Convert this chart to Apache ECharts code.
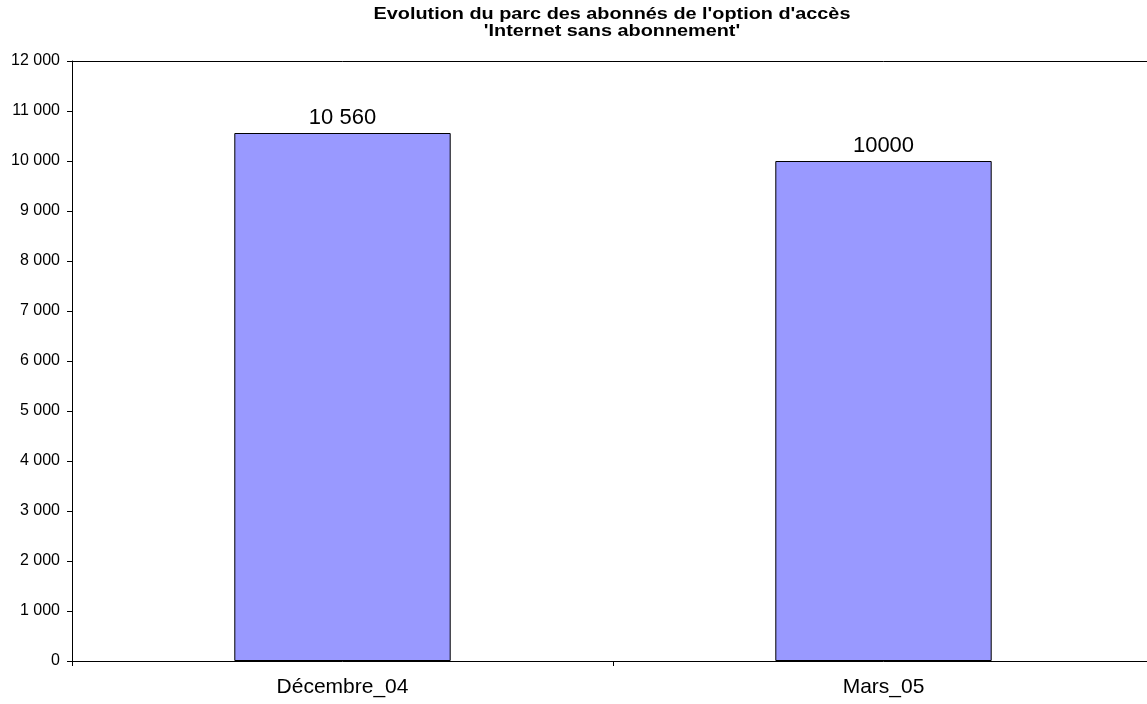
<!DOCTYPE html>
<html><head><meta charset="utf-8">
<script src="https://cdn.jsdelivr.net/npm/echarts@6/dist/echarts.min.js"></script>
<style>html,body{margin:0;padding:0;background:#fff;overflow:hidden}#c{width:1154px;height:704px}</style>
</head><body><div id="c"></div>
<script>
const categories = ['Décembre_04', 'Mars_05'];
const values = [10560, 10000];
const valueLabels = ['10 560', '10000'];
const yTicks = [0, 1000, 2000, 3000, 4000, 5000, 6000, 7000, 8000, 9000, 10000, 11000, 12000];
const titleText = "Evolution du parc des abonnés de l'option d'accès\n'Internet sans abonnement'";

const fmt = v => String(v).replace(/\B(?=(\d{3})+(?!\d))/g, ' ');
const chart = echarts.init(document.getElementById('c'));
chart.setOption({
  animation: false,
  graphic: [{
    type: 'text', x: 612, y: 6, scaleX: 1.24, originX: 0,
    style: {text: titleText, align: 'center', verticalAlign: 'top', fill: '#000',
      font: 'bold 16px "Liberation Sans"', lineHeight: 17}
  }],
  grid: {left: 72, right: 0, top: 61, bottom: 43},
  xAxis: [{
    type: 'category', data: categories, position: 'bottom',
    axisLine: {lineStyle: {color: '#000', width: 1}},
    axisTick: {show: true, length: 5, lineStyle: {color: '#000'}},
    axisLabel: {fontFamily: 'Liberation Sans', fontSize: 21, color: '#000', margin: 16}
  }, {
    type: 'category', data: categories, position: 'top',
    axisLine: {show: true, lineStyle: {color: '#000', width: 1}},
    axisTick: {show: false}, axisLabel: {show: false}
  }],
  yAxis: {
    type: 'value', min: yTicks[0], max: yTicks[yTicks.length - 1], interval: 1000,
    axisLine: {show: true, lineStyle: {color: '#000', width: 1}},
    axisTick: {show: true, length: 5, lineStyle: {color: '#000'}},
    splitLine: {show: false},
    axisLabel: {fontFamily: 'Liberation Sans', fontSize: 16, color: '#000', margin: 12, formatter: v => fmt(v)}
  },
  series: [{
    type: 'bar', data: values, barWidth: '40%', xAxisIndex: 0,
    itemStyle: {color: '#9999FF', borderColor: '#000', borderWidth: 1},
    label: {show: true, position: 'top', distance: 4, fontFamily: 'Liberation Sans', fontSize: 22, color: '#000',
      formatter: p => valueLabels[p.dataIndex]}
  }]
});
</script></body></html>
